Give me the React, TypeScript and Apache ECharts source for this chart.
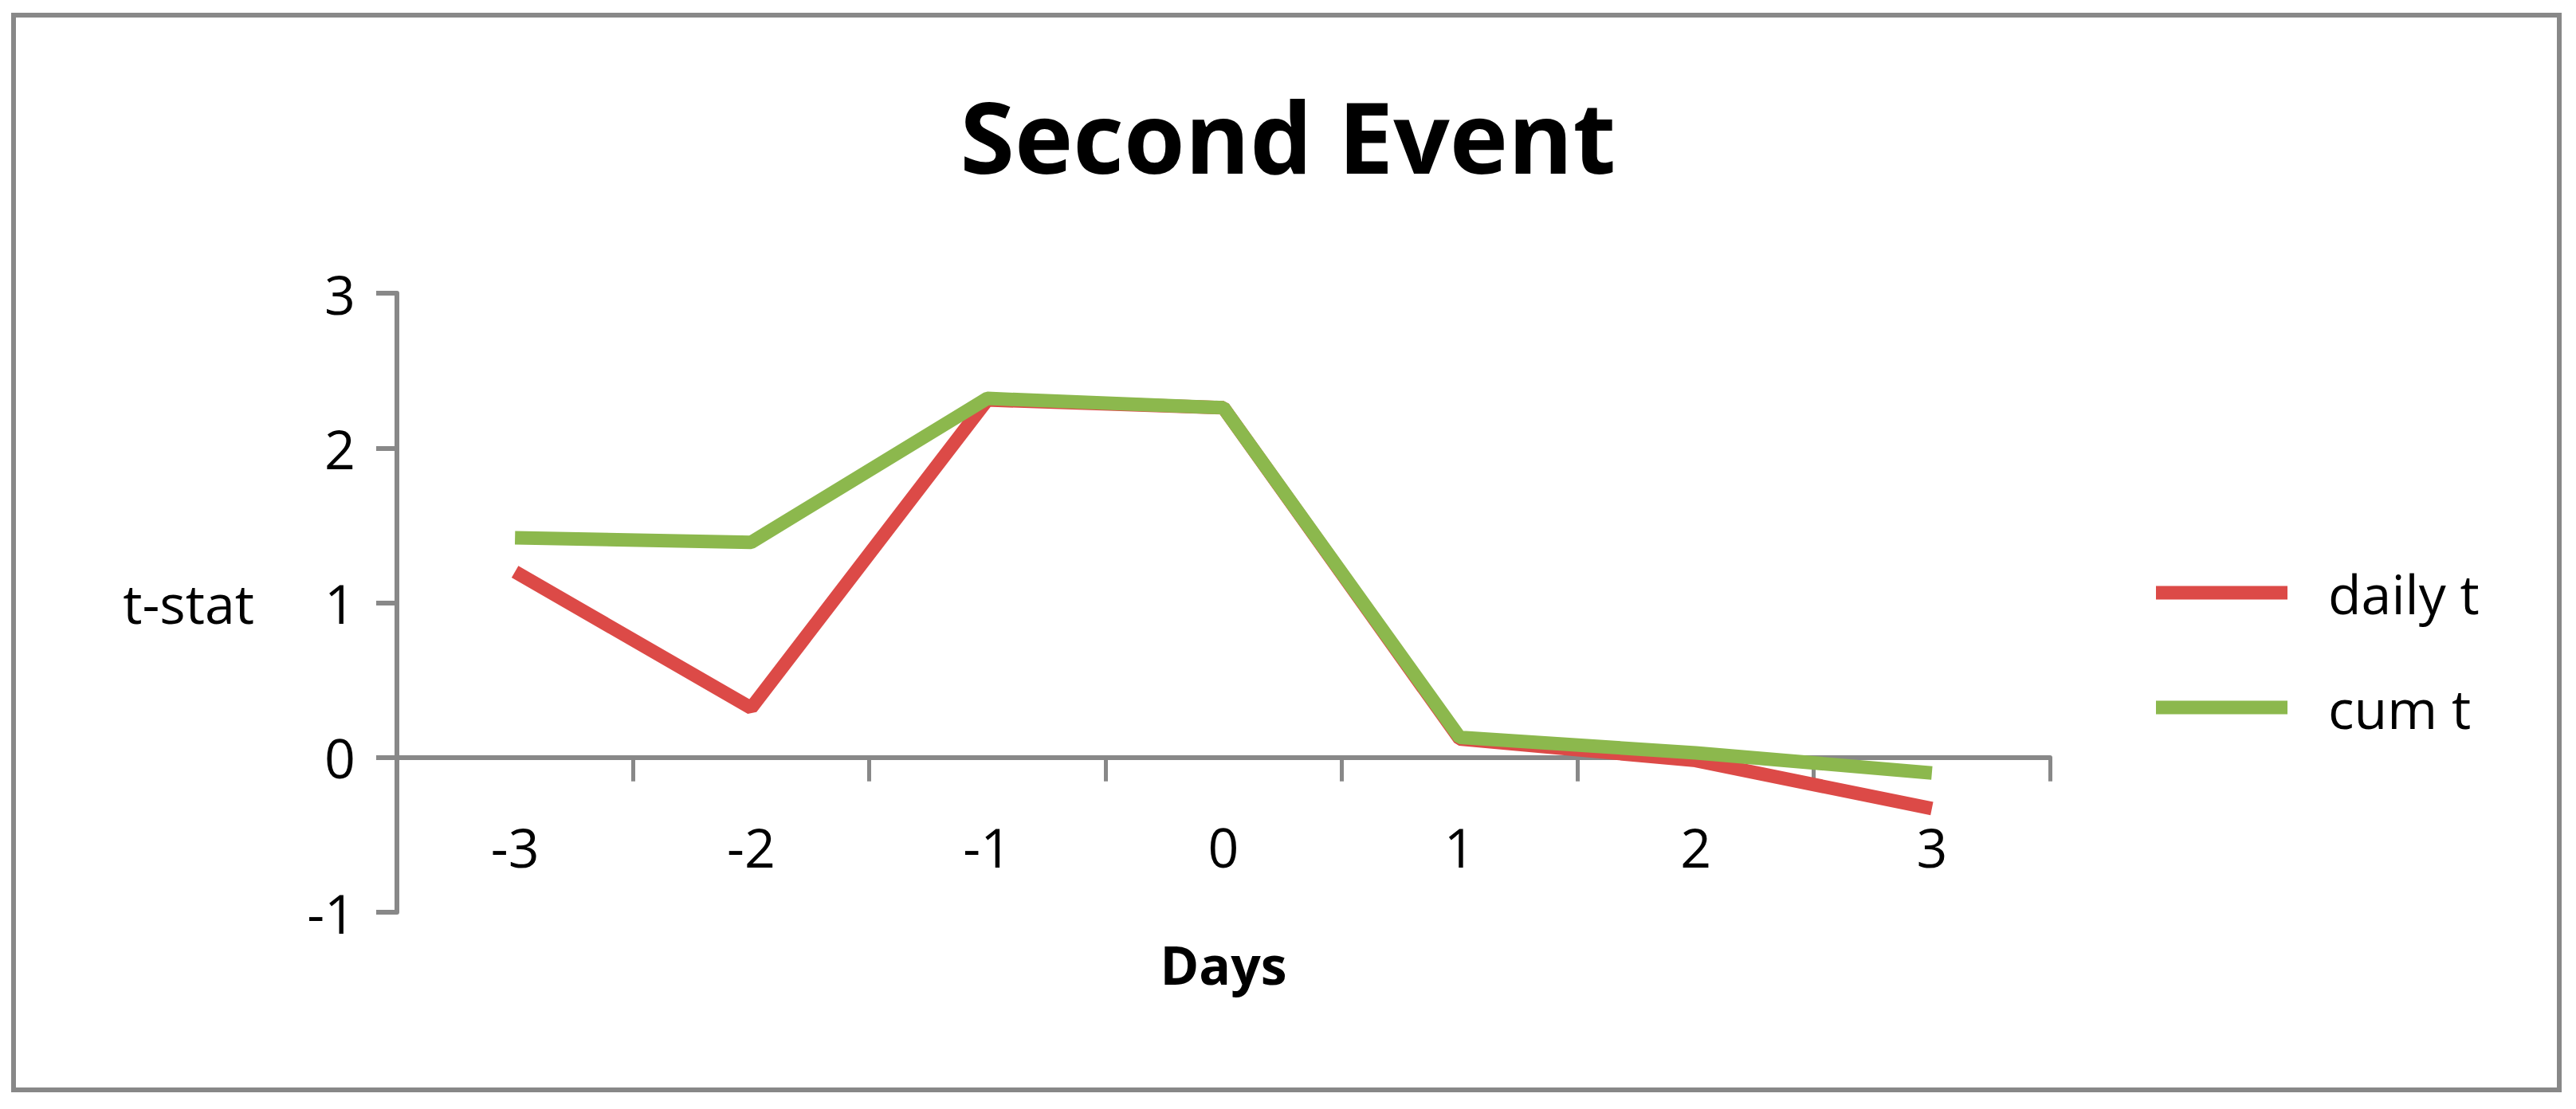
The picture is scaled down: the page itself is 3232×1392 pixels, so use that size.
import React, { useEffect, useRef } from "react";
import * as echarts from "echarts";

const days = ["-3", "-2", "-1", "0", "1", "2", "3"];
const dailyT = [1.2, 0.32, 2.31, 2.26, 0.12, -0.02, -0.33];
const cumT = [1.42, 1.39, 2.32, 2.26, 0.13, 0.03, -0.1];
const seriesNames = ["daily t", "cum t"];
const titleText = "Second Event";
const xName = "Days";
const yName = "t-stat";

const FONT = "'Open Sans', Lato, sans-serif";
const AXIS = "#888888";

const GRID_TOP = 368;
const GRID_BOTTOM_Y = 1145;
const Y_MIN = -1;
const Y_MAX = 3;

export default function App() {
  const ref = useRef<HTMLDivElement>(null);
  useEffect(() => {
    document.body.style.margin = "0";
    const chart = echarts.init(ref.current!, null, { renderer: "svg" });
    const gridH = GRID_BOTTOM_Y - GRID_TOP;
    // move the x axis from the grid bottom up to the value 0
    const zeroOffset = -(gridH * (0 - Y_MIN)) / (Y_MAX - Y_MIN);
    chart.setOption({
      animation: false,
      backgroundColor: "#ffffff",
      textStyle: { fontFamily: FONT },
      title: {
        text: titleText,
        left: "center",
        top: 102,
        textStyle: { fontFamily: FONT, fontSize: 124, fontWeight: "bold", color: "#000" },
      },
      graphic: [
        {
          type: "rect",
          shape: { x: 17, y: 19, width: 3194, height: 1349 },
          style: { fill: "none", stroke: AXIS, lineWidth: 6 },
          silent: true,
        },
      ],
      legend: {
        orient: "vertical",
        left: 2700,
        top: 705,
        itemWidth: 165,
        itemHeight: 17,
        itemGap: 76,
        icon: "rect",
        data: seriesNames,
        textStyle: {
          fontFamily: FONT,
          fontSize: 68,
          lineHeight: 68,
          color: "#000",
          padding: [0, 0, 0, 46],
        },
      },
      grid: {
        left: 498,
        right: 660,
        top: GRID_TOP,
        bottom: 1392 - GRID_BOTTOM_Y,
        containLabel: false,
        outerBoundsMode: "none",
      },
      xAxis: {
        type: "category",
        data: days,
        boundaryGap: true,
        offset: zeroOffset,
        name: xName,
        nameLocation: "middle",
        nameGap: 226,
        nameTextStyle: { fontFamily: FONT, fontSize: 66, fontWeight: "bold", color: "#000" },
        axisLine: { onZero: false, lineStyle: { color: AXIS, width: 6 } },
        axisTick: { show: true, length: 30, alignWithLabel: false, lineStyle: { color: AXIS, width: 5 } },
        axisLabel: { margin: 78, fontFamily: FONT, fontSize: 68, color: "#000" },
        splitLine: { show: false },
      },
      yAxis: {
        type: "value",
        min: Y_MIN,
        max: Y_MAX,
        interval: 1,
        name: yName,
        nameLocation: "middle",
        nameRotate: 0,
        nameGap: 179,
        nameTextStyle: { fontFamily: FONT, fontSize: 68, color: "#000" },
        axisLine: { show: true, lineStyle: { color: AXIS, width: 6 } },
        axisTick: { show: true, length: 26, lineStyle: { color: AXIS, width: 6 } },
        axisLabel: { margin: 52, fontFamily: FONT, fontSize: 68, color: "#000" },
        splitLine: { show: false },
      },
      series: [
        {
          name: seriesNames[0],
          type: "line",
          data: dailyT,
          symbol: "none",
          lineStyle: { color: "#dc4a47", width: 17 },
          itemStyle: { color: "#dc4a47" },
        },
        {
          name: seriesNames[1],
          type: "line",
          data: cumT,
          symbol: "none",
          lineStyle: { color: "#8cb84d", width: 17 },
          itemStyle: { color: "#8cb84d" },
        },
      ],
    });
    return () => chart.dispose();
  }, []);
  return <div ref={ref} style={{ width: 3232, height: 1392 }} />;
}
